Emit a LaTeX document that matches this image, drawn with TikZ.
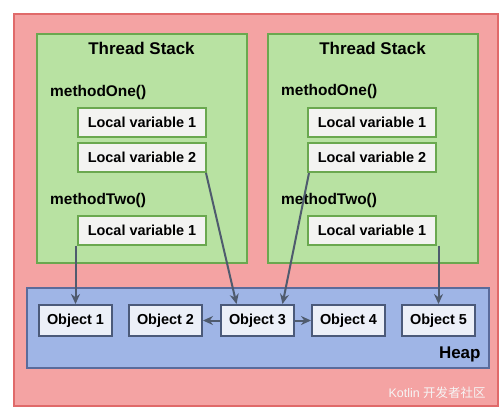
\documentclass[tikz,border=0pt]{standalone}
\usepackage{fontspec}
\setmainfont{Liberation Sans}
\newfontfamily\cjk{Noto Sans CJK SC}
\usetikzlibrary{positioning,arrows.meta}

\definecolor{redfill}{HTML}{F4A3A3}
\definecolor{redline}{HTML}{E06A6A}
\definecolor{greenfill}{HTML}{B8E2A2}
\definecolor{greenline}{HTML}{6AA84F}
\definecolor{varfill}{HTML}{F3F3F1}
\definecolor{heapfill}{HTML}{9FB5E6}
\definecolor{heapline}{HTML}{5A6B9B}
\definecolor{objfill}{HTML}{ECF0F8}
\definecolor{objline}{HTML}{4B5A7A}
\definecolor{arrowcol}{HTML}{4F5B6E}

\begin{document}
\begin{tikzpicture}[
      x=1bp, y=-1bp,
      node distance=4bp,
      region/.style={
        rectangle, draw, line width=2bp,
        anchor=north west, inner sep=0pt
      },
      stack/.style={region, fill=greenfill, draw=greenline,
        minimum width=210bp, minimum height=229bp},
      var/.style={
        rectangle, draw=greenline, fill=varfill, line width=2bp,
        minimum width=128bp, minimum height=29bp,
        font=\bfseries\fontsize{14.5}{16}\selectfont
      },
      obj/.style={
        rectangle, draw=objline, fill=objfill, line width=2bp,
        minimum width=73bp, minimum height=31bp,
        font=\bfseries\fontsize{14.5}{16}\selectfont
      },
      title/.style={font=\bfseries\fontsize{17}{20}\selectfont},
      method/.style={anchor=west, inner sep=0pt,
        font=\bfseries\fontsize{15.5}{18}\selectfont},
      ref/.style={-{Stealth[length=10bp,width=9bp]}, line width=2bp, draw=arrowcol}
    ]
    \useasboundingbox (0,0) rectangle (503,414);

    % outer area and the two thread stacks
    \node[region, fill=redfill, draw=redline,
          minimum width=484bp, minimum height=392bp] (jvm) at (13,13) {};
    \node[stack] (stackL) at (36,33) {};
    \node[stack] (stackR) at (267,33) {};

    \node[title] (titleL) at (141.5,48) {Thread Stack};
    \node[title] (titleR) at (372.5,48) {Thread Stack};

    % left stack
    \node[method] (oneL) at (50,93) {methodOne()};
    \node[var] (lvOneL) at (142,122.5) {Local variable 1};
    \node[var, below=of lvOneL] (lvTwoL) {Local variable 2};
    \node[method] (twoL) at (50,200) {methodTwo()};
    \node[var] (lvThreeL) at (142,230) {Local variable 1};

    % right stack
    \node[method] (oneR) at (281,92) {methodOne()};
    \node[var] (lvOneR) at (372,122.5) {Local variable 1};
    \node[var, below=of lvOneR] (lvTwoR) {Local variable 2};
    \node[method] (twoR) at (281,200) {methodTwo()};
    \node[var] (lvThreeR) at (372,230) {Local variable 1};

    % heap with objects
    \node[region, fill=heapfill, draw=heapline,
          minimum width=462bp, minimum height=80bp] (heap) at (26,287) {};
    \node[anchor=south east, title] (heapLabel) at ([xshift=-6bp,yshift=3bp]heap.south east) {Heap};

    \node[obj] (objOne) at (75.5,320.5) {Object 1};
    \node[obj, right=15bp of objOne] (objTwo) {Object 2};
    \node[obj, right=17bp of objTwo] (objThree) {Object 3};
    \node[obj, right=16bp of objThree] (objFour) {Object 4};
    \node[obj, right=15bp of objFour] (objFive) {Object 5};

    % references
    \draw[ref] (lvThreeL.south -| objOne.north) -- (objOne.north);
    \draw[ref] (lvThreeR.south -| objFive.north) -- (objFive.north);
    \draw[ref] ([xshift=-1bp]lvTwoL.south east) -- ([xshift=-21bp]objThree.north);
    \draw[ref] ([xshift=2bp]lvTwoR.south west) -- ([xshift=25bp]objThree.north);
    \draw[ref] (objThree) -- (objTwo);
    \draw[ref] (objThree) -- (objFour);

    % watermark
    \node[anchor=east, text=white!92!gray, font=\fontsize{12.5}{14}\selectfont] (mark)
        at (489,393) {Kotlin {\cjk 开发者社区}};
\end{tikzpicture}
\end{document}
